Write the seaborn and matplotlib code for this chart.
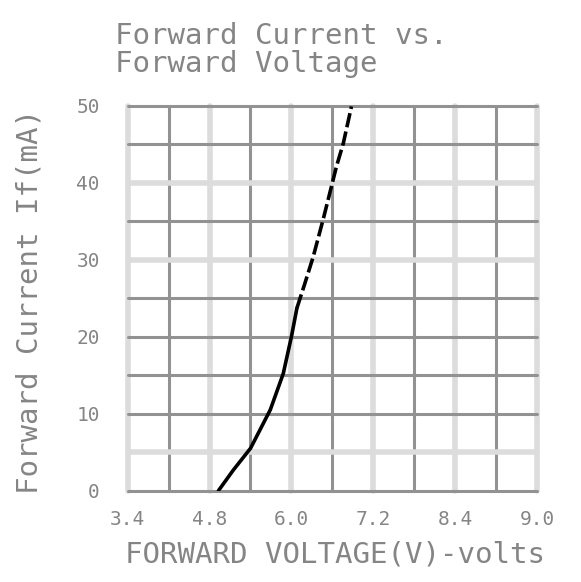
import numpy as np
import pandas as pd
import matplotlib
matplotlib.use("Agg")
import matplotlib.pyplot as plt
import seaborn as sns

# Curve (volts, mA)
forward_voltage = [4.93, 5.15, 5.40, 5.69, 5.88, 6.00, 6.08, 6.20, 6.32, 6.47, 6.66, 6.76, 6.88]
forward_current = [0.0, 2.7, 5.5, 10.5, 15.2, 20.0, 23.7, 27.0, 30.4, 35.4, 42.1, 45.1, 49.9]
# upper part of the curve is drawn broken in the original
dashed_from = 6

# grid positions (x every 0.6 V, y every 5 mA) and the printed tick labels
x_grid = [3.6, 4.2, 4.8, 5.4, 6.0, 6.6, 7.2, 7.8, 8.4, 9.0, 9.6]
x_labels = ["3.4", "", "4.8", "", "6.0", "", "7.2", "", "8.4", "", "9.0"]
y_grid = [0, 5, 10, 15, 20, 25, 30, 35, 40, 45, 50]
y_labels = ["0", "", "10", "", "20", "", "30", "", "40", "", "50"]
# which grid lines are printed in the pale grey
x_pale = [True, False, True, False, True, False, True, False, True, False, True]
y_pale = [False, True, False, False, False, False, True, False, True, False, False]

sns.set_style("white")
plt.rcParams['font.family'] = ['DejaVu Sans Mono', 'DejaVu Sans']
text_grey = '#858585'

fig = plt.figure(figsize=(5.81, 5.82), dpi=100)
ax = fig.add_axes([0.2198, 0.1569, 0.7045, 0.6615])

df = pd.DataFrame({'vf': forward_voltage, 'if': forward_current})
sns.lineplot(data=df.iloc[:dashed_from + 1], x='vf', y='if', ax=ax,
             color='black', linewidth=2.6, sort=False)
sns.lineplot(data=df.iloc[dashed_from:], x='vf', y='if', ax=ax,
             color='black', linewidth=2.6, sort=False,
             linestyle=(0, (4, 1.2)))

ax.set_xlim(x_grid[0], x_grid[-1])
ax.set_ylim(y_grid[0], y_grid[-1])
ax.set_xticks(x_grid)
ax.set_xticklabels(x_labels)
ax.set_yticks(y_grid)
ax.set_yticklabels(y_labels)
ax.tick_params(length=0, labelsize=14, labelcolor=text_grey)
ax.tick_params(axis='x', pad=14)
ax.tick_params(axis='y', pad=20)

# hand-drawn style grid: dark and pale lines, not clipped at the edges
for x, pale in zip(x_grid, x_pale):
    ax.axvline(x, color='#dcdcdc' if pale else '#929292',
               linewidth=4.0 if pale else 2.2, zorder=0, clip_on=False)
for y, pale in zip(y_grid, y_pale):
    ax.axhline(y, color='#dcdcdc' if pale else '#929292',
               linewidth=4.0 if pale else 2.2, zorder=0, clip_on=False)
for s in ax.spines.values():
    s.set_visible(False)
ax.set_xlabel('')
ax.set_ylabel('')

fig.text(125 / 581, 1 - 555 / 582, 'FORWARD VOLTAGE(V)-volts', fontsize=21,
         color=text_grey, ha='left', va='center')
fig.text(30 / 581, 1 - 302 / 582, 'Forward Current If(mA)', fontsize=21,
         color=text_grey, ha='center', va='center', rotation=90)
fig.text(115 / 581, 1 - 22 / 582, 'Forward Current vs.\nForward Voltage',
         fontsize=21, color=text_grey, ha='left', va='top', linespacing=1.0)

fig.savefig('out.png', dpi=100)
